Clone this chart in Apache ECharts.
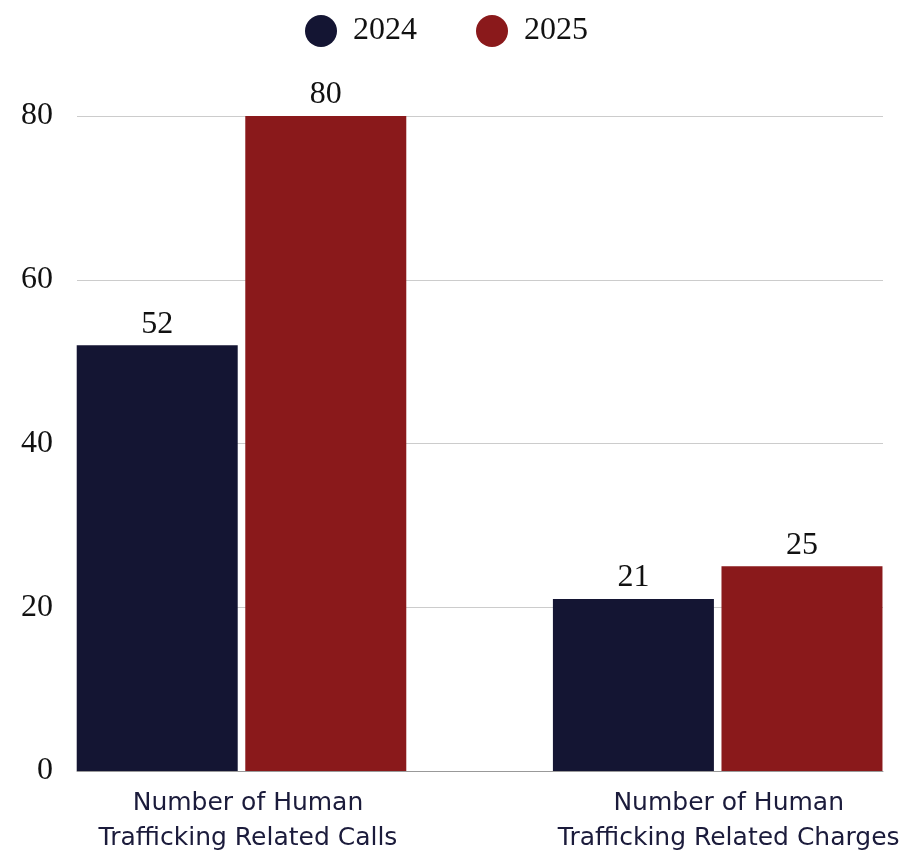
<!DOCTYPE html>
<html>
<head>
<meta charset="utf-8">
<script src="https://cdn.jsdelivr.net/npm/echarts@6/dist/echarts.min.js"></script>
<style>
html,body{margin:0;padding:0;background:#fff;}
#chart{width:922px;height:854px;}
</style>
</head>
<body>
<div id="chart"></div>
<script>
const categories = ['Number of Human\nTrafficking Related Calls', 'Number of Human\nTrafficking Related Charges'];
const seriesNames = ['2024', '2025'];
const values2024 = [52, 21];
const values2025 = [80, 25];
const yTicks = [0, 20, 40, 60, 80];

const NAVY = '#141533';
const RED = '#8a191b';
const SERIF = '"Liberation Serif", "DejaVu Serif", serif';
const SANS = '"DejaVu Sans", sans-serif';

const chart = echarts.init(document.getElementById('chart'));
const yMin = yTicks[0], yMax = yTicks[yTicks.length - 1], yStep = yTicks[1] - yTicks[0];

chart.setOption({
  animation: false,
  backgroundColor: '#fff',
  legend: {
    left: 300,
    top: 10,
    icon: 'circle',
    itemWidth: 32,
    itemHeight: 32,
    itemGap: 59,
    textStyle: { fontFamily: SERIF, fontSize: 32, color: '#111', padding: [2, 0, 0, 11] },
    data: seriesNames
  },
  grid: [
    { left: 77, right: 39, top: 116, bottom: 83, containLabel: false, outerBoundsMode: 'none' },
    { left: 3.4, width: 952.4, top: 116, bottom: 83, containLabel: false, outerBoundsMode: 'none' }
  ],
  xAxis: [
    {
      gridIndex: 0, type: 'category', data: categories,
      axisLine: { show: true, lineStyle: { color: '#999', width: 1 } },
      axisTick: { show: false },
      axisLabel: { show: false },
      splitLine: { show: false }
    },
    {
      gridIndex: 1, type: 'category', data: categories,
      axisLine: { show: false },
      axisTick: { show: false },
      splitLine: { show: false },
      axisLabel: {
        interval: 0,
        margin: 15,
        fontFamily: SANS,
        fontSize: 25,
        lineHeight: 35,
        color: '#1b1b3b',
        formatter: function (v, i) {
          const tag = i === 0 ? 'a' : 'b';
          return v.split('\n').map(s => '{' + tag + '|' + s + '}').join('\n');
        },
        rich: {
          a: { fontFamily: SANS, fontSize: 25, lineHeight: 35, color: '#1b1b3b', padding: [0, 0, 0, 13] },
          b: { fontFamily: SANS, fontSize: 25, lineHeight: 35, color: '#1b1b3b', padding: [0, 0, 0, 22] }
        }
      }
    }
  ],
  yAxis: [
    {
      gridIndex: 0, type: 'value', min: yMin, max: yMax, interval: yStep,
      axisLine: { show: false },
      axisTick: { show: false },
      axisLabel: { margin: 24, fontFamily: SERIF, fontSize: 32, color: '#111' },
      splitLine: { show: true, lineStyle: { color: '#cccccc', width: 1 } }
    },
    {
      gridIndex: 1, type: 'value', min: yMin, max: yMax, interval: yStep,
      show: false,
      splitLine: { show: false }
    }
  ],
  series: [
    {
      name: seriesNames[0], type: 'bar', xAxisIndex: 1, yAxisIndex: 1,
      data: values2024, barWidth: 161, barGap: '4.7%',
      itemStyle: { color: NAVY },
      label: { show: true, position: 'top', distance: 5, fontFamily: SERIF, fontSize: 32, color: '#111' }
    },
    {
      name: seriesNames[1], type: 'bar', xAxisIndex: 1, yAxisIndex: 1,
      data: values2025, barWidth: 161, barGap: '4.7%',
      itemStyle: { color: RED },
      label: { show: true, position: 'top', distance: 5, fontFamily: SERIF, fontSize: 32, color: '#111' }
    }
  ]
});
</script>
</body>
</html>
